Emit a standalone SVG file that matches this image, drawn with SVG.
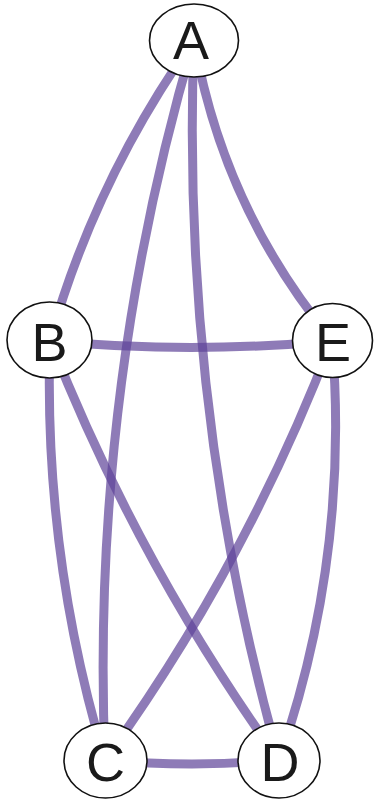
<svg xmlns="http://www.w3.org/2000/svg" width="375" height="802" viewBox="0 0 375 802">
<style>
.e{fill:none;stroke:#5e4399;stroke-opacity:0.7;stroke-width:9}
.n ellipse{fill:#fff;stroke:#111;stroke-width:1.6}
.n text{font-family:"Liberation Sans",Arial,sans-serif;font-size:54px;fill:#1a1a1a;text-anchor:middle}
</style>
<rect width="375" height="802" fill="#fff"/>
<g id="edges">
<path class="e" d="M194,40 Q96,178 50,340"/>
<path class="e" d="M194,40 Q223,208 332,340"/>
<path class="e" d="M194,40 Q90,393 105,760"/>
<path class="e" d="M194,40 Q180,407 279,760"/>
<path class="e" d="M50,341 Q191,354 332,341"/>
<path class="e" d="M50,340 Q43,554 105,760"/>
<path class="e" d="M50,340 Q138,564 279,760"/>
<path class="e" d="M332,340 Q246,565 105,760"/>
<path class="e" d="M332,340 Q350,556 279,760"/>
<path class="e" d="M105,760 Q192,768 279,760"/>
</g>
<g id="A" class="n"><ellipse cx="194" cy="40.5" rx="44.5" ry="36.5"/><text x="191" y="59">A</text></g>
<g id="B" class="n"><ellipse cx="49.5" cy="340" rx="42.5" ry="38"/><text x="49.5" y="361">B</text></g>
<g id="E" class="n"><ellipse cx="332.5" cy="340.5" rx="40" ry="37"/><text x="333" y="361">E</text></g>
<g id="C" class="n"><ellipse cx="105.5" cy="760.5" rx="41.5" ry="37.5"/><text x="105.5" y="781">C</text></g>
<g id="D" class="n"><ellipse cx="279" cy="760.5" rx="41" ry="37.5"/><text x="280" y="781">D</text></g>
</svg>
